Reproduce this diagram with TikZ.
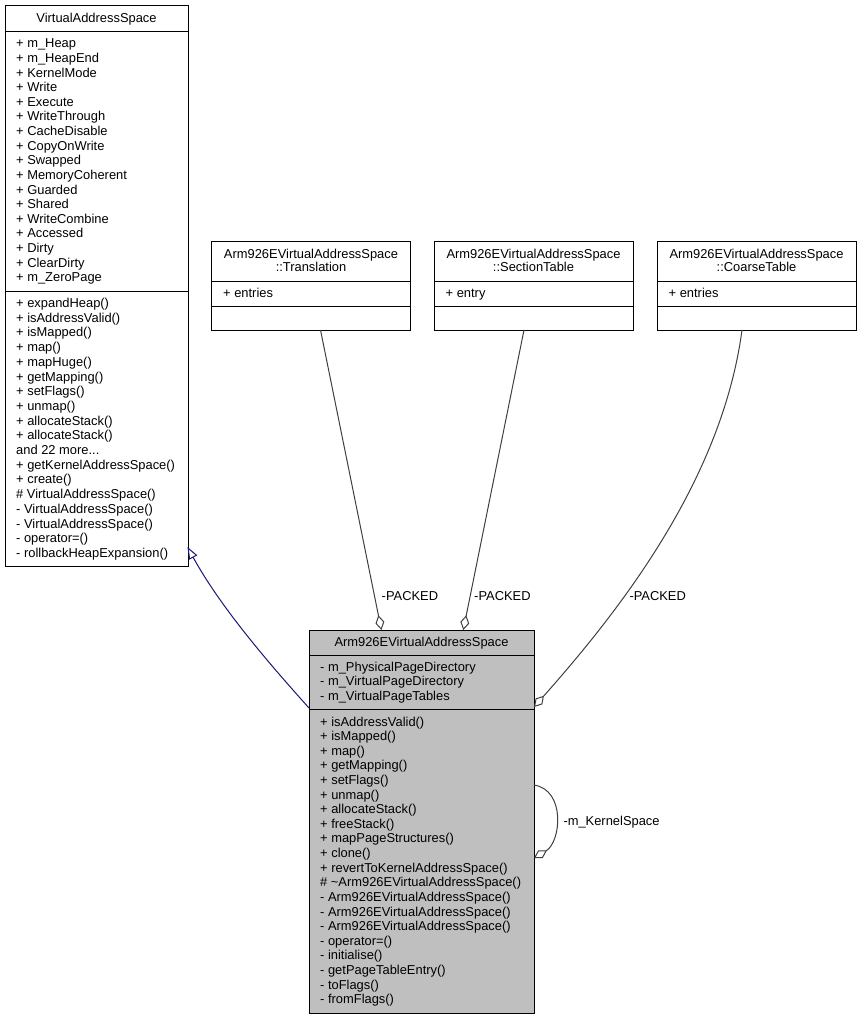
\documentclass[tikz,border=0pt]{standalone}
\usepackage{fontspec}
\setmainfont{Liberation Sans}
\usetikzlibrary{arrows.meta,calc}
\definecolor{edgegray}{HTML}{404040}
\definecolor{inhblue}{HTML}{191970}
\definecolor{mainfill}{HTML}{BFBFBF}
\newcommand{\umlfont}{\fontsize{12.9}{14.6}\selectfont}
\begin{document}
\begin{tikzpicture}[x=1pt,y=-1pt,
  box/.style={draw=black, line width=0.9pt, fill=white, inner sep=0pt, outer sep=0pt},
  mainbox/.style={box, fill=mainfill},
  entry/.style={anchor=base west, inner sep=0pt, font=\umlfont},
  ctitle/.style={anchor=base, inner sep=0pt, font=\umlfont},
  lbl/.style={anchor=base west, inner sep=0pt, font=\umlfont},
  sepline/.style={draw=black, line width=0.9pt},
  agg/.style={draw=edgegray, line width=1pt, -{Diamond[open, length=15pt, width=9pt]}},
  inh/.style={draw=inhblue, line width=1pt, -{Triangle[open, length=12pt, width=9pt]}}
]
\useasboundingbox (0,0) rectangle (861,1020);

% ---------- VirtualAddressSpace ----------
\node[box, minimum width=183pt, minimum height=561pt] (vas) at (96.5,285.5) {};
\draw[sepline] ($(vas.north west)+(0,26)$) -- ($(vas.north east)+(0,26)$);
\draw[sepline] ($(vas.north west)+(0,286)$) -- ($(vas.north east)+(0,286)$);
\node[ctitle] (vast) at (96.5,22.8) {VirtualAddressSpace};
\foreach [count=\i from 0] \t in {m\_Heap, m\_HeapEnd, KernelMode, Write, Execute, WriteThrough, CacheDisable, CopyOnWrite, Swapped, MemoryCoherent, Guarded, Shared, WriteCombine, Accessed, Dirty, ClearDirty, m\_ZeroPage}
  \node[entry] (vasa\i) at (16,47.8+\i*14.63) {+ \t};
\foreach [count=\i from 0] \t in {+ expandHeap(), + isAddressValid(), + isMapped(), + map(), + mapHuge(), + getMapping(), + setFlags(), + unmap(), + allocateStack(), + allocateStack(), and 22 more.{}.{}., + getKernelAddressSpace(), + create(), \# VirtualAddressSpace(), - VirtualAddressSpace(), - VirtualAddressSpace(), - operator=(), - rollbackHeapExpansion()}
  \node[entry] (vasm\i) at (16,307.5+\i*14.7) {\t};

% ---------- small classes ----------
\node[box, minimum width=199pt, minimum height=89pt] (trans) at (311,285.5) {};
\node[box, minimum width=199pt, minimum height=89pt] (sect) at (533.5,285.5) {};
\node[box, minimum width=199pt, minimum height=89pt] (coarse) at (756.5,285.5) {};
\foreach \b/\n in {trans/::Translation, sect/::SectionTable, coarse/::CoarseTable}{
  \draw[sepline] ($(\b.north west)+(0,40)$) -- ($(\b.north east)+(0,40)$);
  \draw[sepline] ($(\b.north west)+(0,65)$) -- ($(\b.north east)+(0,65)$);
  \node[ctitle] (\b t1) at ($(\b.north)+(0,17.5)$) {Arm926EVirtualAddressSpace};
  \node[ctitle] (\b t2) at ($(\b.north)+(0,30)$) {\n};
}
\node[entry] (transa) at ($(trans.north west)+(11.5,56.2)$) {+ entries};
\node[entry] (secta) at ($(sect.north west)+(11.5,56.2)$) {+ entry};
\node[entry] (coarsea) at ($(coarse.north west)+(11.5,56.2)$) {+ entries};

% ---------- Arm926EVirtualAddressSpace ----------
\node[mainbox, minimum width=225pt, minimum height=383pt] (main) at (421.5,821.5) {};
\draw[sepline] ($(main.north west)+(0,25)$) -- ($(main.north east)+(0,25)$);
\draw[sepline] ($(main.north west)+(0,79)$) -- ($(main.north east)+(0,79)$);
\node[ctitle] (maint) at (421.5,646.5) {Arm926EVirtualAddressSpace};
\foreach [count=\i from 0] \t in {m\_PhysicalPageDirectory, m\_VirtualPageDirectory, m\_VirtualPageTables}
  \node[entry] (maina\i) at (320,671.2+\i*14.65) {- \t};
\foreach [count=\i from 0] \t in {+ isAddressValid(), + isMapped(), + map(), + getMapping(), + setFlags(), + unmap(), + allocateStack(), + freeStack(), + mapPageStructures(), + clone(), + revertToKernelAddressSpace(), \# \textasciitilde Arm926EVirtualAddressSpace(), - Arm926EVirtualAddressSpace(), - Arm926EVirtualAddressSpace(), - Arm926EVirtualAddressSpace(), - operator=(), - initialise(), - getPageTableEntry(), - toFlags(), - fromFlags()}
  \node[entry] (mainm\i) at (320,726+\i*14.62) {\t};

% ---------- connectors ----------
\draw[inh] ($(main.north west)+(0,78)$) .. controls (275,670) and (222,610) .. ($(vas.south east)+(-0.5,-19)$);
\draw[agg] ($(trans.south)+(9.5,0)$) -- ($(main.north west)+(72.4,0)$);
\draw[agg] ($(sect.south)+(-9.5,0)$) -- ($(main.north west)+(154.3,0)$);
\draw[agg] ($(coarse.south)+(-14.5,0)$) .. controls (722,480) and (620,610) .. ($(main.north east)+(0,77)$);
\draw[agg] ($(main.north east)+(0,155)$) .. controls +(32,5) and +(27,-16) .. ($(main.north east)+(0,228)$);

\node[lbl] (l1) at (381.5,600.5) {-PACKED};
\node[lbl] (l2) at (474,600.5) {-PACKED};
\node[lbl] (l3) at (629.3,600.5) {-PACKED};
\node[lbl] (l4) at (563.3,825.5) {-m\_KernelSpace};
\end{tikzpicture}
\end{document}
